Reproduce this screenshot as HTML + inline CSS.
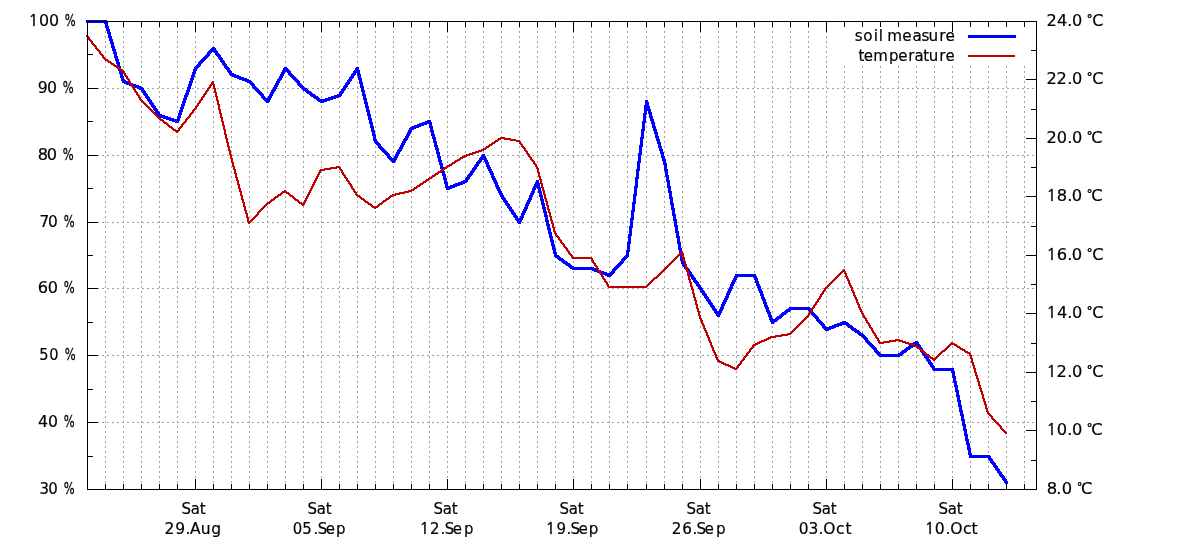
<!DOCTYPE html>
<html lang="en"><head><meta charset="utf-8"><title>soil measure / temperature</title>
<style>
html,body{margin:0;padding:0;background:#fff;}
body{width:1200px;height:550px;overflow:hidden;}
svg{display:block;}
text{font-family:"DejaVu Sans", "Liberation Sans", sans-serif;font-size:16.5px;fill:#000;stroke:#000;stroke-width:0.2px;}
</style></head><body>
<svg width="1200" height="550" viewBox="0 0 1200 550">
<rect width="1200" height="550" fill="#fff"/>
<g shape-rendering="crispEdges" stroke="#a0a0a0" stroke-width="1" stroke-dasharray="2 3" fill="none">
<line x1="105.5" y1="21" x2="105.5" y2="489"/>
<line x1="123.5" y1="21" x2="123.5" y2="489"/>
<line x1="141.5" y1="21" x2="141.5" y2="489"/>
<line x1="159.5" y1="21" x2="159.5" y2="489"/>
<line x1="177.5" y1="21" x2="177.5" y2="489"/>
<line x1="195.5" y1="21" x2="195.5" y2="489"/>
<line x1="213.5" y1="21" x2="213.5" y2="489"/>
<line x1="231.5" y1="21" x2="231.5" y2="489"/>
<line x1="249.5" y1="21" x2="249.5" y2="489"/>
<line x1="267.5" y1="21" x2="267.5" y2="489"/>
<line x1="285.5" y1="21" x2="285.5" y2="489"/>
<line x1="303.5" y1="21" x2="303.5" y2="489"/>
<line x1="321.5" y1="21" x2="321.5" y2="489"/>
<line x1="339.5" y1="21" x2="339.5" y2="489"/>
<line x1="357.5" y1="21" x2="357.5" y2="489"/>
<line x1="375.5" y1="21" x2="375.5" y2="489"/>
<line x1="393.5" y1="21" x2="393.5" y2="489"/>
<line x1="411.5" y1="21" x2="411.5" y2="489"/>
<line x1="429.5" y1="21" x2="429.5" y2="489"/>
<line x1="447.5" y1="21" x2="447.5" y2="489"/>
<line x1="465.5" y1="21" x2="465.5" y2="489"/>
<line x1="483.5" y1="21" x2="483.5" y2="489"/>
<line x1="501.5" y1="21" x2="501.5" y2="489"/>
<line x1="519.5" y1="21" x2="519.5" y2="489"/>
<line x1="537.5" y1="21" x2="537.5" y2="489"/>
<line x1="555.5" y1="21" x2="555.5" y2="489"/>
<line x1="573.5" y1="21" x2="573.5" y2="489"/>
<line x1="591.5" y1="21" x2="591.5" y2="489"/>
<line x1="609.5" y1="21" x2="609.5" y2="489"/>
<line x1="627.5" y1="21" x2="627.5" y2="489"/>
<line x1="646.5" y1="21" x2="646.5" y2="489"/>
<line x1="664.5" y1="21" x2="664.5" y2="489"/>
<line x1="682.5" y1="21" x2="682.5" y2="489"/>
<line x1="700.5" y1="21" x2="700.5" y2="489"/>
<line x1="718.5" y1="21" x2="718.5" y2="489"/>
<line x1="736.5" y1="21" x2="736.5" y2="489"/>
<line x1="754.5" y1="21" x2="754.5" y2="489"/>
<line x1="772.5" y1="21" x2="772.5" y2="489"/>
<line x1="790.5" y1="21" x2="790.5" y2="489"/>
<line x1="808.5" y1="21" x2="808.5" y2="489"/>
<line x1="826.5" y1="21" x2="826.5" y2="489"/>
<line x1="844.5" y1="21" x2="844.5" y2="489"/>
<line x1="862.5" y1="21" x2="862.5" y2="489"/>
<line x1="880.5" y1="21" x2="880.5" y2="489"/>
<line x1="898.5" y1="21" x2="898.5" y2="489"/>
<line x1="916.5" y1="21" x2="916.5" y2="489"/>
<line x1="934.5" y1="21" x2="934.5" y2="489"/>
<line x1="952.5" y1="21" x2="952.5" y2="489"/>
<line x1="970.5" y1="21" x2="970.5" y2="489"/>
<line x1="988.5" y1="21" x2="988.5" y2="489"/>
<line x1="1006.5" y1="21" x2="1006.5" y2="489"/>
<line x1="1024.5" y1="21" x2="1024.5" y2="489"/>
<line x1="87" y1="422.5" x2="1036" y2="422.5"/>
<line x1="87" y1="355.5" x2="1036" y2="355.5"/>
<line x1="87" y1="288.5" x2="1036" y2="288.5"/>
<line x1="87" y1="222.5" x2="1036" y2="222.5"/>
<line x1="87" y1="155.5" x2="1036" y2="155.5"/>
<line x1="87" y1="88.5" x2="1036" y2="88.5"/>
</g>
<rect x="836" y="23" width="199" height="43" fill="#fff"/>
<g shape-rendering="crispEdges" fill="#000">
<rect x="105" y="484" width="1" height="5"/>
<rect x="105" y="22" width="1" height="5"/>
<rect x="123" y="484" width="1" height="5"/>
<rect x="123" y="22" width="1" height="5"/>
<rect x="141" y="484" width="1" height="5"/>
<rect x="141" y="22" width="1" height="5"/>
<rect x="159" y="484" width="1" height="5"/>
<rect x="159" y="22" width="1" height="5"/>
<rect x="177" y="484" width="1" height="5"/>
<rect x="177" y="22" width="1" height="5"/>
<rect x="195" y="479" width="1" height="10"/>
<rect x="195" y="22" width="1" height="10"/>
<rect x="213" y="484" width="1" height="5"/>
<rect x="213" y="22" width="1" height="5"/>
<rect x="231" y="484" width="1" height="5"/>
<rect x="231" y="22" width="1" height="5"/>
<rect x="249" y="484" width="1" height="5"/>
<rect x="249" y="22" width="1" height="5"/>
<rect x="267" y="484" width="1" height="5"/>
<rect x="267" y="22" width="1" height="5"/>
<rect x="285" y="484" width="1" height="5"/>
<rect x="285" y="22" width="1" height="5"/>
<rect x="303" y="484" width="1" height="5"/>
<rect x="303" y="22" width="1" height="5"/>
<rect x="321" y="479" width="1" height="10"/>
<rect x="321" y="22" width="1" height="10"/>
<rect x="339" y="484" width="1" height="5"/>
<rect x="339" y="22" width="1" height="5"/>
<rect x="357" y="484" width="1" height="5"/>
<rect x="357" y="22" width="1" height="5"/>
<rect x="375" y="484" width="1" height="5"/>
<rect x="375" y="22" width="1" height="5"/>
<rect x="393" y="484" width="1" height="5"/>
<rect x="393" y="22" width="1" height="5"/>
<rect x="411" y="484" width="1" height="5"/>
<rect x="411" y="22" width="1" height="5"/>
<rect x="429" y="484" width="1" height="5"/>
<rect x="429" y="22" width="1" height="5"/>
<rect x="447" y="479" width="1" height="10"/>
<rect x="447" y="22" width="1" height="10"/>
<rect x="465" y="484" width="1" height="5"/>
<rect x="465" y="22" width="1" height="5"/>
<rect x="483" y="484" width="1" height="5"/>
<rect x="483" y="22" width="1" height="5"/>
<rect x="501" y="484" width="1" height="5"/>
<rect x="501" y="22" width="1" height="5"/>
<rect x="519" y="484" width="1" height="5"/>
<rect x="519" y="22" width="1" height="5"/>
<rect x="537" y="484" width="1" height="5"/>
<rect x="537" y="22" width="1" height="5"/>
<rect x="555" y="484" width="1" height="5"/>
<rect x="555" y="22" width="1" height="5"/>
<rect x="573" y="479" width="1" height="10"/>
<rect x="573" y="22" width="1" height="10"/>
<rect x="591" y="484" width="1" height="5"/>
<rect x="591" y="22" width="1" height="5"/>
<rect x="609" y="484" width="1" height="5"/>
<rect x="609" y="22" width="1" height="5"/>
<rect x="627" y="484" width="1" height="5"/>
<rect x="627" y="22" width="1" height="5"/>
<rect x="646" y="484" width="1" height="5"/>
<rect x="646" y="22" width="1" height="5"/>
<rect x="664" y="484" width="1" height="5"/>
<rect x="664" y="22" width="1" height="5"/>
<rect x="682" y="484" width="1" height="5"/>
<rect x="682" y="22" width="1" height="5"/>
<rect x="700" y="479" width="1" height="10"/>
<rect x="700" y="22" width="1" height="10"/>
<rect x="718" y="484" width="1" height="5"/>
<rect x="718" y="22" width="1" height="5"/>
<rect x="736" y="484" width="1" height="5"/>
<rect x="736" y="22" width="1" height="5"/>
<rect x="754" y="484" width="1" height="5"/>
<rect x="754" y="22" width="1" height="5"/>
<rect x="772" y="484" width="1" height="5"/>
<rect x="772" y="22" width="1" height="5"/>
<rect x="790" y="484" width="1" height="5"/>
<rect x="790" y="22" width="1" height="5"/>
<rect x="808" y="484" width="1" height="5"/>
<rect x="808" y="22" width="1" height="5"/>
<rect x="826" y="479" width="1" height="10"/>
<rect x="826" y="22" width="1" height="10"/>
<rect x="844" y="484" width="1" height="5"/>
<rect x="844" y="22" width="1" height="5"/>
<rect x="862" y="484" width="1" height="5"/>
<rect x="862" y="22" width="1" height="5"/>
<rect x="880" y="484" width="1" height="5"/>
<rect x="880" y="22" width="1" height="5"/>
<rect x="898" y="484" width="1" height="5"/>
<rect x="898" y="22" width="1" height="5"/>
<rect x="916" y="484" width="1" height="5"/>
<rect x="916" y="22" width="1" height="5"/>
<rect x="934" y="484" width="1" height="5"/>
<rect x="934" y="22" width="1" height="5"/>
<rect x="952" y="479" width="1" height="10"/>
<rect x="952" y="22" width="1" height="10"/>
<rect x="970" y="484" width="1" height="5"/>
<rect x="970" y="22" width="1" height="5"/>
<rect x="988" y="484" width="1" height="5"/>
<rect x="988" y="22" width="1" height="5"/>
<rect x="1006" y="484" width="1" height="5"/>
<rect x="1006" y="22" width="1" height="5"/>
<rect x="1024" y="484" width="1" height="5"/>
<rect x="1024" y="22" width="1" height="5"/>
<rect x="88" y="21" width="10" height="1"/>
<rect x="88" y="54" width="5" height="1"/>
<rect x="88" y="88" width="10" height="1"/>
<rect x="88" y="121" width="5" height="1"/>
<rect x="88" y="155" width="10" height="1"/>
<rect x="88" y="188" width="5" height="1"/>
<rect x="88" y="222" width="10" height="1"/>
<rect x="88" y="255" width="5" height="1"/>
<rect x="88" y="288" width="10" height="1"/>
<rect x="88" y="322" width="5" height="1"/>
<rect x="88" y="355" width="10" height="1"/>
<rect x="88" y="389" width="5" height="1"/>
<rect x="88" y="422" width="10" height="1"/>
<rect x="88" y="456" width="5" height="1"/>
<rect x="88" y="489" width="10" height="1"/>
<rect x="1026" y="21" width="10" height="1"/>
<rect x="1031" y="50" width="5" height="1"/>
<rect x="1026" y="79" width="10" height="1"/>
<rect x="1031" y="109" width="5" height="1"/>
<rect x="1026" y="138" width="10" height="1"/>
<rect x="1031" y="167" width="5" height="1"/>
<rect x="1026" y="196" width="10" height="1"/>
<rect x="1031" y="226" width="5" height="1"/>
<rect x="1026" y="255" width="10" height="1"/>
<rect x="1031" y="284" width="5" height="1"/>
<rect x="1026" y="313" width="10" height="1"/>
<rect x="1031" y="343" width="5" height="1"/>
<rect x="1026" y="372" width="10" height="1"/>
<rect x="1031" y="401" width="5" height="1"/>
<rect x="1026" y="430" width="10" height="1"/>
<rect x="1031" y="460" width="5" height="1"/>
<rect x="1026" y="489" width="10" height="1"/>
</g>
<path d="M86.5 20L106.5 20L106.5 23L86.5 23ZM104 20.5L107 20.5L125 80.5L125 82.5L122 82.5L104 22.5ZM122.5 80L124.5 80L142.5 87L142.5 90L140.5 90L122.5 83ZM140 87.5L143 87.5L161 114.5L161 116.5L158 116.5L140 89.5ZM158.5 114L160.5 114L178.5 120L178.5 123L176.5 123L158.5 117ZM176 120.5L194 67.5L197 67.5L197 69.5L179 122.5L176 122.5ZM194 67.5L212 47.5L215 47.5L215 49.5L197 69.5L194 69.5ZM212 47.5L215 47.5L233 73.5L233 75.5L230 75.5L212 49.5ZM230.5 73L232.5 73L250.5 80L250.5 83L248.5 83L230.5 76ZM248 80.5L251 80.5L269 100.5L269 102.5L266 102.5L248 82.5ZM266 100.5L284 67.5L287 67.5L287 69.5L269 102.5L266 102.5ZM284 67.5L287 67.5L305 87.5L305 89.5L302 89.5L284 69.5ZM302.5 87L304.5 87L322.5 100L322.5 103L320.5 103L302.5 90ZM320.5 100L338.5 94L340.5 94L340.5 97L322.5 103L320.5 103ZM338 94.5L356 67.5L359 67.5L359 69.5L341 96.5L338 96.5ZM356 67.5L359 67.5L377 140.5L377 142.5L374 142.5L356 69.5ZM374 140.5L377 140.5L395 160.5L395 162.5L392 162.5L374 142.5ZM392 160.5L410 127.5L413 127.5L413 129.5L395 162.5L392 162.5ZM410.5 127L428.5 120L430.5 120L430.5 123L412.5 130L410.5 130ZM428 120.5L431 120.5L449 187.5L449 189.5L446 189.5L428 122.5ZM446.5 187L464.5 180L466.5 180L466.5 183L448.5 190L446.5 190ZM464 180.5L482 154.5L485 154.5L485 156.5L467 182.5L464 182.5ZM482 154.5L485 154.5L503 194.5L503 196.5L500 196.5L482 156.5ZM500 194.5L503 194.5L521 221.5L521 223.5L518 223.5L500 196.5ZM518 221.5L536 180.5L539 180.5L539 182.5L521 223.5L518 223.5ZM536 180.5L539 180.5L557 254.5L557 256.5L554 256.5L536 182.5ZM554.5 254L556.5 254L574.5 267L574.5 270L572.5 270L554.5 257ZM572.5 267L592.5 267L592.5 270L572.5 270ZM590.5 267L592.5 267L610.5 274L610.5 277L608.5 277L590.5 270ZM608 274.5L626 254.5L629 254.5L629 256.5L611 276.5L608 276.5ZM626 254.5L645 100.5L648 100.5L648 102.5L629 256.5L626 256.5ZM645 100.5L648 100.5L666 160.5L666 162.5L663 162.5L645 102.5ZM663 160.5L666 160.5L684 261.5L684 263.5L681 263.5L663 162.5ZM681 261.5L684 261.5L702 287.5L702 289.5L699 289.5L681 263.5ZM699 287.5L702 287.5L720 314.5L720 316.5L717 316.5L699 289.5ZM717 314.5L735 274.5L738 274.5L738 276.5L720 316.5L717 316.5ZM735.5 274L755.5 274L755.5 277L735.5 277ZM753 274.5L756 274.5L774 321.5L774 323.5L771 323.5L753 276.5ZM771.5 321L789.5 307L791.5 307L791.5 310L773.5 324L771.5 324ZM789.5 307L809.5 307L809.5 310L789.5 310ZM807 307.5L810 307.5L828 328.5L828 330.5L825 330.5L807 309.5ZM825.5 328L843.5 321L845.5 321L845.5 324L827.5 331L825.5 331ZM843.5 321L845.5 321L863.5 334L863.5 337L861.5 337L843.5 324ZM861 334.5L864 334.5L882 354.5L882 356.5L879 356.5L861 336.5ZM879.5 354L899.5 354L899.5 357L879.5 357ZM897.5 354L915.5 341L917.5 341L917.5 344L899.5 357L897.5 357ZM915 341.5L918 341.5L936 368.5L936 370.5L933 370.5L915 343.5ZM933.5 368L953.5 368L953.5 371L933.5 371ZM951 368.5L954 368.5L972 455.5L972 457.5L969 457.5L951 370.5ZM969.5 455L989.5 455L989.5 458L969.5 458ZM987 455.5L990 455.5L1008 481.5L1008 483.5L1005 483.5L987 457.5ZM86 20H89V23H86ZM104 20H107V23H104ZM122 80H125V83H122ZM140 87H143V90H140ZM158 114H161V117H158ZM176 120H179V123H176ZM194 67H197V70H194ZM212 47H215V50H212ZM230 73H233V76H230ZM248 80H251V83H248ZM266 100H269V103H266ZM284 67H287V70H284ZM302 87H305V90H302ZM320 100H323V103H320ZM338 94H341V97H338ZM356 67H359V70H356ZM374 140H377V143H374ZM392 160H395V163H392ZM410 127H413V130H410ZM428 120H431V123H428ZM446 187H449V190H446ZM464 180H467V183H464ZM482 154H485V157H482ZM500 194H503V197H500ZM518 221H521V224H518ZM536 180H539V183H536ZM554 254H557V257H554ZM572 267H575V270H572ZM590 267H593V270H590ZM608 274H611V277H608ZM626 254H629V257H626ZM645 100H648V103H645ZM663 160H666V163H663ZM681 261H684V264H681ZM699 287H702V290H699ZM717 314H720V317H717ZM735 274H738V277H735ZM753 274H756V277H753ZM771 321H774V324H771ZM789 307H792V310H789ZM807 307H810V310H807ZM825 328H828V331H825ZM843 321H846V324H843ZM861 334H864V337H861ZM879 354H882V357H879ZM897 354H900V357H897ZM915 341H918V344H915ZM933 368H936V371H933ZM951 368H954V371H951ZM969 455H972V458H969ZM987 455H990V458H987ZM1005 481H1008V484H1005Z" fill="#0000ff" fill-rule="nonzero" shape-rendering="crispEdges"/>
<path d="M86 35.5L88 35.5L106 58.5L106 59.5L104 59.5L86 36.5ZM104.5 58L105.5 58L123.5 70L123.5 72L122.5 72L104.5 60ZM122 70.5L124 70.5L142 99.5L142 100.5L140 100.5L122 71.5ZM140.5 99L141.5 99L159.5 117L159.5 119L158.5 119L140.5 101ZM158.5 117L159.5 117L177.5 131L177.5 133L176.5 133L158.5 119ZM176 131.5L194 108.5L196 108.5L196 109.5L178 132.5L176 132.5ZM194 108.5L212 81.5L214 81.5L214 82.5L196 109.5L194 109.5ZM212 81.5L214 81.5L232 156.5L232 157.5L230 157.5L212 82.5ZM230 156.5L232 156.5L250 222.5L250 223.5L248 223.5L230 157.5ZM248 222.5L266 203.5L268 203.5L268 204.5L250 223.5L248 223.5ZM266.5 203L284.5 190L285.5 190L285.5 192L267.5 205L266.5 205ZM284.5 190L285.5 190L303.5 204L303.5 206L302.5 206L284.5 192ZM302 204.5L320 169.5L322 169.5L322 170.5L304 205.5L302 205.5ZM320.5 169L338.5 166L339.5 166L339.5 168L321.5 171L320.5 171ZM338 166.5L340 166.5L358 194.5L358 195.5L356 195.5L338 167.5ZM356.5 194L357.5 194L375.5 207L375.5 209L374.5 209L356.5 196ZM374.5 207L392.5 194L393.5 194L393.5 196L375.5 209L374.5 209ZM392.5 194L410.5 190L411.5 190L411.5 192L393.5 196L392.5 196ZM410.5 190L428.5 178L429.5 178L429.5 180L411.5 192L410.5 192ZM428.5 178L446.5 166L447.5 166L447.5 168L429.5 180L428.5 180ZM446.5 166L464.5 155L465.5 155L465.5 157L447.5 168L446.5 168ZM464.5 155L482.5 149L483.5 149L483.5 151L465.5 157L464.5 157ZM482.5 149L500.5 137L501.5 137L501.5 139L483.5 151L482.5 151ZM500.5 137L501.5 137L519.5 140L519.5 142L518.5 142L500.5 139ZM518 140.5L520 140.5L538 166.5L538 167.5L536 167.5L518 141.5ZM536 166.5L538 166.5L556 232.5L556 233.5L554 233.5L536 167.5ZM554 232.5L556 232.5L574 257.5L574 258.5L572 258.5L554 233.5ZM572.5 257L591.5 257L591.5 259L572.5 259ZM590 257.5L592 257.5L610 286.5L610 287.5L608 287.5L590 258.5ZM608.5 286L627.5 286L627.5 288L608.5 288ZM626.5 286L646.5 286L646.5 288L626.5 288ZM645.5 286L663.5 269L664.5 269L664.5 271L646.5 288L645.5 288ZM663.5 269L681.5 251L682.5 251L682.5 253L664.5 271L663.5 271ZM681 251.5L683 251.5L701 316.5L701 317.5L699 317.5L681 252.5ZM699 316.5L701 316.5L719 360.5L719 361.5L717 361.5L699 317.5ZM717.5 360L718.5 360L736.5 368L736.5 370L735.5 370L717.5 362ZM735 368.5L753 344.5L755 344.5L755 345.5L737 369.5L735 369.5ZM753.5 344L771.5 336L772.5 336L772.5 338L754.5 346L753.5 346ZM771.5 336L789.5 333L790.5 333L790.5 335L772.5 338L771.5 338ZM789.5 333L807.5 315L808.5 315L808.5 317L790.5 335L789.5 335ZM807 315.5L825 287.5L827 287.5L827 288.5L809 316.5L807 316.5ZM825.5 287L843.5 269L844.5 269L844.5 271L826.5 289L825.5 289ZM843 269.5L845 269.5L863 312.5L863 313.5L861 313.5L843 270.5ZM861 312.5L863 312.5L881 342.5L881 343.5L879 343.5L861 313.5ZM879.5 342L897.5 339L898.5 339L898.5 341L880.5 344L879.5 344ZM897.5 339L898.5 339L916.5 345L916.5 347L915.5 347L897.5 341ZM915.5 345L916.5 345L934.5 359L934.5 361L933.5 361L915.5 347ZM933.5 359L951.5 342L952.5 342L952.5 344L934.5 361L933.5 361ZM951.5 342L952.5 342L970.5 353L970.5 355L969.5 355L951.5 344ZM969 353.5L971 353.5L989 412.5L989 413.5L987 413.5L969 354.5ZM987 412.5L989 412.5L1007 432.5L1007 433.5L1005 433.5L987 413.5ZM86 35H88V37H86ZM104 58H106V60H104ZM122 70H124V72H122ZM140 99H142V101H140ZM158 117H160V119H158ZM176 131H178V133H176ZM194 108H196V110H194ZM212 81H214V83H212ZM230 156H232V158H230ZM248 222H250V224H248ZM266 203H268V205H266ZM284 190H286V192H284ZM302 204H304V206H302ZM320 169H322V171H320ZM338 166H340V168H338ZM356 194H358V196H356ZM374 207H376V209H374ZM392 194H394V196H392ZM410 190H412V192H410ZM428 178H430V180H428ZM446 166H448V168H446ZM464 155H466V157H464ZM482 149H484V151H482ZM500 137H502V139H500ZM518 140H520V142H518ZM536 166H538V168H536ZM554 232H556V234H554ZM572 257H574V259H572ZM590 257H592V259H590ZM608 286H610V288H608ZM626 286H628V288H626ZM645 286H647V288H645ZM663 269H665V271H663ZM681 251H683V253H681ZM699 316H701V318H699ZM717 360H719V362H717ZM735 368H737V370H735ZM753 344H755V346H753ZM771 336H773V338H771ZM789 333H791V335H789ZM807 315H809V317H807ZM825 287H827V289H825ZM843 269H845V271H843ZM861 312H863V314H861ZM879 342H881V344H879ZM897 339H899V341H897ZM915 345H917V347H915ZM933 359H935V361H933ZM951 342H953V344H951ZM969 353H971V355H969ZM987 412H989V414H987ZM1005 432H1007V434H1005Z" fill="#c00000" fill-rule="nonzero" shape-rendering="crispEdges"/>
<g shape-rendering="crispEdges">
<rect x="968" y="35" width="48" height="3" fill="#0000ff"/>
<rect x="968" y="55" width="47" height="2" fill="#c00000"/>
</g>
<g shape-rendering="crispEdges" fill="#000">
<rect x="87" y="21" width="950" height="1"/>
<rect x="87" y="489" width="950" height="1"/>
<rect x="87" y="21" width="1" height="469"/>
<rect x="1036" y="21" width="1" height="469"/>
</g>
<text transform="scale(0.962 1)" x="29.7 40.49 50.89 60.29 67.22" y="26"><tspan x="29.7" textLength="10.2" lengthAdjust="spacingAndGlyphs" font-size="16.2px" font-family="NanumGothic, IPAGothic, 'DejaVu Sans', sans-serif" stroke-width="0.45">1</tspan>00 <tspan x="67.22" textLength="11.35" lengthAdjust="spacingAndGlyphs" stroke-width="0.3">%</tspan></text>
<text transform="scale(0.954 1)" x="39.54 49.26 58.7 65.69" y="93">90 <tspan x="65.69" textLength="11.44" lengthAdjust="spacingAndGlyphs" stroke-width="0.3">%</tspan></text>
<text transform="scale(0.981 1)" x="38.46 47.76 57.08 63.88" y="160">80 <tspan x="63.88" textLength="11.13" lengthAdjust="spacingAndGlyphs" stroke-width="0.3">%</tspan></text>
<text transform="scale(0.934 1)" x="42.42 51.5 61.03 68.16" y="227">70 <tspan x="68.16" textLength="11.69" lengthAdjust="spacingAndGlyphs" stroke-width="0.3">%</tspan></text>
<text transform="scale(0.978 1)" x="38.53 48.95 58.28 65.1" y="293">60 <tspan x="65.1" textLength="11.16" lengthAdjust="spacingAndGlyphs" stroke-width="0.3">%</tspan></text>
<text transform="scale(0.883 1)" x="44.52 55.91 65.69 73.23" y="360">50 <tspan x="73.23" textLength="12.36" lengthAdjust="spacingAndGlyphs" stroke-width="0.3">%</tspan></text>
<text transform="scale(0.952 1)" x="39.85 50.43 59.87 66.88" y="427">40 <tspan x="66.88" textLength="11.47" lengthAdjust="spacingAndGlyphs" stroke-width="0.3">%</tspan></text>
<text transform="scale(0.907 1)" x="43.43 53.19 62.84 70.19" y="494">30 <tspan x="70.19" textLength="12.04" lengthAdjust="spacingAndGlyphs" stroke-width="0.3">%</tspan></text>
<text transform="scale(0.977 1)" x="1071.23 1081.81 1092.47 1097.16 1106.55 1112.46 1117.97" y="26">24.0 <tspan x="1112.46" y="22.29" textLength="5.79" lengthAdjust="spacingAndGlyphs" font-size="11.31px" stroke-width="0.45">°</tspan><tspan y="26">C</tspan></text>
<text transform="scale(0.981 1)" x="1066.84 1077.08 1088.01 1092.67 1102.04 1107.92 1113.39" y="84">22.0 <tspan x="1107.92" y="80.29" textLength="5.76" lengthAdjust="spacingAndGlyphs" font-size="11.31px" stroke-width="0.45">°</tspan><tspan y="84">C</tspan></text>
<text transform="scale(0.981 1)" x="1066.84 1077.32 1088.01 1092.67 1102.04 1107.92 1112.32" y="143">20.0 <tspan x="1107.92" y="139.29" textLength="5.76" lengthAdjust="spacingAndGlyphs" font-size="11.31px" stroke-width="0.45">°</tspan><tspan y="143">C</tspan></text>
<text transform="scale(0.988 1)" x="1059.33 1069.65 1080.28 1084.89 1094.23 1100.07 1104.4" y="201"><tspan x="1059.33" textLength="9.94" lengthAdjust="spacingAndGlyphs" font-size="16.2px" font-family="NanumGothic, IPAGothic, 'DejaVu Sans', sans-serif" stroke-width="0.45">1</tspan>8.0 <tspan x="1100.07" y="197.29" textLength="5.72" lengthAdjust="spacingAndGlyphs" font-size="11.31px" stroke-width="0.45">°</tspan><tspan y="201">C</tspan></text>
<text transform="scale(0.99 1)" x="1057.19 1067.42 1078.09 1082.68 1092.02 1097.85 1103.21" y="260"><tspan x="1057.19" textLength="9.92" lengthAdjust="spacingAndGlyphs" font-size="16.2px" font-family="NanumGothic, IPAGothic, 'DejaVu Sans', sans-serif" stroke-width="0.45">1</tspan>6.0 <tspan x="1097.85" y="256.29" textLength="5.71" lengthAdjust="spacingAndGlyphs" font-size="11.31px" stroke-width="0.45">°</tspan><tspan y="260">C</tspan></text>
<text transform="scale(0.979 1)" x="1069.07 1079.59 1090.24 1094.91 1104.29 1110.19 1115.67" y="318"><tspan x="1069.07" textLength="10.03" lengthAdjust="spacingAndGlyphs" font-size="16.2px" font-family="NanumGothic, IPAGothic, 'DejaVu Sans', sans-serif" stroke-width="0.45">1</tspan>4.0 <tspan x="1110.19" y="314.29" textLength="5.78" lengthAdjust="spacingAndGlyphs" font-size="11.31px" stroke-width="0.45">°</tspan><tspan y="318">C</tspan></text>
<text transform="scale(0.985 1)" x="1062.56 1072.69 1083.58 1088.21 1097.56 1103.42 1108.84" y="377"><tspan x="1062.56" textLength="9.97" lengthAdjust="spacingAndGlyphs" font-size="16.2px" font-family="NanumGothic, IPAGothic, 'DejaVu Sans', sans-serif" stroke-width="0.45">1</tspan>2.0 <tspan x="1103.42" y="373.29" textLength="5.74" lengthAdjust="spacingAndGlyphs" font-size="11.31px" stroke-width="0.45">°</tspan><tspan y="377">C</tspan></text>
<text transform="scale(0.986 1)" x="1061.48 1071.83 1082.48 1087.1 1096.45 1102.3 1106.65" y="435"><tspan x="1061.48" textLength="9.96" lengthAdjust="spacingAndGlyphs" font-size="16.2px" font-family="NanumGothic, IPAGothic, 'DejaVu Sans', sans-serif" stroke-width="0.45">1</tspan>0.0 <tspan x="1102.3" y="431.29" textLength="5.74" lengthAdjust="spacingAndGlyphs" font-size="11.31px" stroke-width="0.45">°</tspan><tspan y="435">C</tspan></text>
<text transform="scale(0.99 1)" x="1057.28 1066.88 1072.53 1082.02 1087.94 1092" y="494">8.0 <tspan x="1087.94" y="489.57" textLength="5.22" lengthAdjust="spacingAndGlyphs" font-size="10.34px" stroke-width="0.45">°</tspan><tspan y="494">C</tspan></text>
<text transform="scale(0.907 1)" x="200.19 210.36 220.23" y="514">Sat</text>
<text transform="scale(0.907 1)" x="339.11 349.28 359.14" y="514">Sat</text>
<text transform="scale(0.907 1)" x="478.03 488.2 498.06" y="514">Sat</text>
<text transform="scale(0.907 1)" x="616.95 627.12 636.98" y="514">Sat</text>
<text transform="scale(0.907 1)" x="756.97 767.14 777.01" y="514">Sat</text>
<text transform="scale(0.907 1)" x="895.89 906.06 915.93" y="514">Sat</text>
<text transform="scale(0.907 1)" x="1034.81 1044.98 1054.84" y="514">Sat</text>
<text transform="scale(0.943 1)" x="174.56 185.9 196.8 201.52 212.79 223.95" y="534">29.Aug</text>
<text transform="scale(0.907 1)" x="322.87 333.26 345.62 350.25 359.13 370.54" y="534">05.Sep</text>
<text transform="scale(0.905 1)" x="463.67 475.19 486.83 491.31 500.16 512.81" y="534"><tspan x="463.67" textLength="10.85" lengthAdjust="spacingAndGlyphs" font-size="16.2px" font-family="NanumGothic, IPAGothic, 'DejaVu Sans', sans-serif" stroke-width="0.45">1</tspan>2.Sep</text>
<text transform="scale(0.914 1)" x="596.96 608.82 619.87 624.27 633.04 644.19" y="534"><tspan x="596.96" textLength="10.74" lengthAdjust="spacingAndGlyphs" font-size="16.2px" font-family="NanumGothic, IPAGothic, 'DejaVu Sans', sans-serif" stroke-width="0.45">1</tspan>9.Sep</text>
<text transform="scale(0.919 1)" x="730.94 742.46 753.59 757.95 766.67 779.12" y="534">26.Sep</text>
<text transform="scale(0.937 1)" x="852.55 862.77 873.53 878.67 892.27 902.4" y="534">03.Oct</text>
<text transform="scale(0.948 1)" x="975.55 986 997.44 1002.42 1015.88 1024.8" y="534"><tspan x="975.55" textLength="10.36" lengthAdjust="spacingAndGlyphs" font-size="16.2px" font-family="NanumGothic, IPAGothic, 'DejaVu Sans', sans-serif" stroke-width="0.45">1</tspan>0.Oct</text>
<text transform="scale(0.922 1)" x="927.11 936.22 947.65 953.18 956.72 962.41 978.58 989.67 999.35 1007.18 1018.64 1025.39" y="41">soil measure</text>
<text transform="scale(0.907 1)" x="946.52 952.3 962.92 980.13 990.39 1001.26 1008.15 1018.02 1023.93 1035.55 1042.43" y="61">temperature</text>
</svg>
</body></html>
